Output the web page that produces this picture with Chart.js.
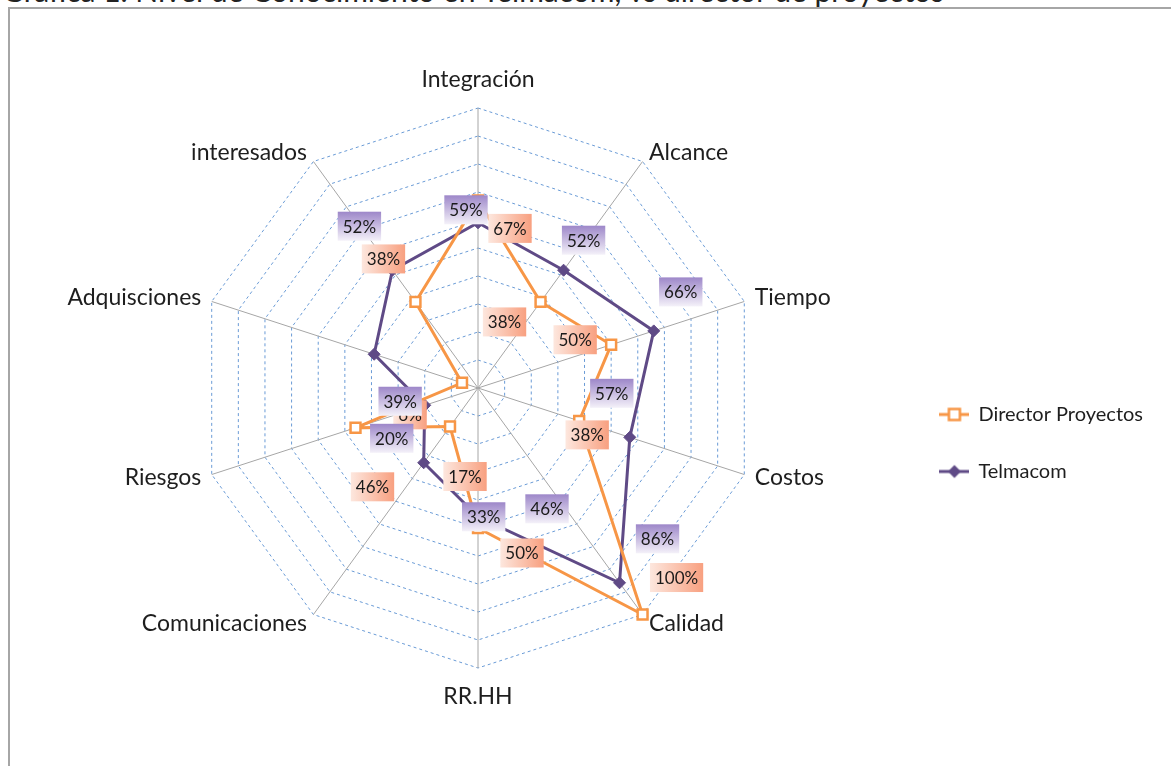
<!DOCTYPE html>
<html>
<head>
<meta charset="utf-8">
<script src="https://cdn.jsdelivr.net/npm/chart.js@4.4.1/dist/chart.umd.min.js"></script>
<style>
  html, body { margin: 0; padding: 0; background: #fff; overflow: hidden; }
  #wrap { position: relative; width: 1171px; height: 766px; overflow: hidden; }
  #title { position: absolute; left: 2px; top: -25px; font: 30px Lato; line-height: 30px; white-space: nowrap; color: #222; }
  #frame { position: absolute; left: 8px; top: 7px; width: 1300px; height: 900px; border-left: 2px solid #a6a6a6; border-top: 2px solid #a6a6a6; }
  canvas { position: absolute; left: 0; top: 0; }
</style>
</head>
<body>
<div id="wrap">
  <div id="title">Gráfica 1. Nivel de Conocimiento en Telmacom, vs director de proyectos</div>
  <div id="frame"></div>
  <canvas id="myChart" width="1171" height="766"></canvas>
</div>
<script>
// data (percent)
const categories = ["Integración", "Alcance", "Tiempo", "Costos", "Calidad", "RR.HH", "Comunicaciones", "Riesgos", "Adquisciones", "interesados"];
const seriesNames = ["Director Proyectos", "Telmacom"];
const directorValues = [67, 38, 50, 38, 100, 50, 17, 46, 6, 38];
const telmacomValues = [59, 52, 66, 57, 86, 46, 33, 20, 39, 52];

const ORANGE = "#f79646";
const PURPLE = "#5f4a86";

// where the radar sits in the frame
const CX = 478, CY = 388, RADIUS = 280;

// label box offsets from each point (px), like the hand-moved labels in the original
const labelOffsets = [
  [[32, 28], [-36, 20], [-36, -5], [8, 14], [34, -37], [44, 25], [15, 50], [17, 59], [-52, 32], [-32, -43]],
  [[-12, -13], [20, -30], [27, -39], [-18, -44], [38, -44], [69, -8], [60, 54], [-33, 33], [26, 47], [-33, -44]]
];

class FixedRadial extends Chart.RadialLinearScale {
  setCenterPoint() {
    this.xCenter = CX;
    this.yCenter = CY;
    this.drawingArea = RADIUS;
  }
}
FixedRadial.id = "fixedRadial";
Chart.register(FixedRadial);

function legendIcon(color, kind) {
  const c = document.createElement("canvas");
  c.width = 30;
  c.height = 16;
  const g = c.getContext("2d");
  g.strokeStyle = color;
  g.lineWidth = 3;
  g.beginPath();
  g.moveTo(0, 8);
  g.lineTo(30, 8);
  g.stroke();
  if (kind === "square") {
    g.fillStyle = "#fff";
    g.lineWidth = 2.5;
    g.fillRect(9.5, 2.5, 11, 11);
    g.strokeRect(9.5, 2.5, 11, 11);
  } else {
    g.fillStyle = color;
    g.beginPath();
    g.moveTo(15, 1.5);
    g.lineTo(21.5, 8);
    g.lineTo(15, 14.5);
    g.lineTo(8.5, 8);
    g.closePath();
    g.fill();
  }
  return c;
}
const legendIcons = [legendIcon(ORANGE, "square"), legendIcon(PURPLE, "diamond")];

const valueLabels = {
  id: "valueLabels",
  afterDatasetsDraw(chart) {
    const ctx = chart.ctx;
    ctx.save();
    ctx.font = "17px Lato";
    ctx.textAlign = "center";
    ctx.textBaseline = "middle";
    chart.data.datasets.forEach((ds, di) => {
      const meta = chart.getDatasetMeta(di);
      meta.data.forEach((pt, i) => {
        const [dx, dy] = labelOffsets[di][i];
        const text = ds.data[i] + "%";
        const w = ctx.measureText(text).width + 10, h = 29;
        const x = pt.x + dx - w / 2, y = pt.y + dy - h / 2;
        let grad;
        if (di === 0) {
          grad = ctx.createLinearGradient(x, 0, x + w, 0);
          grad.addColorStop(0, "#fde7de");
          grad.addColorStop(1, "#f8a080");
        } else {
          grad = ctx.createLinearGradient(0, y, 0, y + h);
          grad.addColorStop(0, "#9d87c9");
          grad.addColorStop(1, "#f4f1f9");
        }
        ctx.fillStyle = grad;
        ctx.fillRect(x, y, w, h);
        ctx.fillStyle = "#1a1a1a";
        ctx.fillText(text, pt.x + dx, pt.y + dy + 1);
      });
    });
    ctx.restore();
  }
};

new Chart(document.getElementById("myChart").getContext("2d"), {
  type: "radar",
  data: {
    labels: categories,
    datasets: [
      {
        label: seriesNames[0],
        data: directorValues,
        borderColor: ORANGE,
        borderWidth: 3,
        fill: false,
        pointStyle: "rect",
        pointRadius: 7,
        pointBorderWidth: 2.5,
        pointBorderColor: ORANGE,
        pointBackgroundColor: "#fff",
        clip: false
      },
      {
        label: seriesNames[1],
        data: telmacomValues,
        borderColor: PURPLE,
        borderWidth: 3,
        fill: false,
        pointStyle: "rectRot",
        pointRadius: 6,
        pointBorderWidth: 1,
        pointBorderColor: PURPLE,
        pointBackgroundColor: PURPLE,
        clip: false
      }
    ]
  },
  options: {
    responsive: false,
    animation: false,
    devicePixelRatio: 1,
    layout: { padding: { top: 120, right: 18 } },
    scales: {
      r: {
        type: "fixedRadial",
        min: 0,
        max: 100,
        ticks: { display: false, stepSize: 10 },
        grid: { color: "#6a9bd6", lineWidth: 1 },
        border: { dash: [3, 3] },
        angleLines: { color: "#a6a6a6", lineWidth: 1 },
        pointLabels: {
          color: "#1e1e1e",
          font: { family: "Lato", size: 23, lineHeight: 0.01 },
          padding: (ctx) => (ctx.index === 0 || ctx.index === 5 ? 28 : 11)
        }
      }
    },
    plugins: {
      tooltip: { enabled: false },
      legend: {
        position: "right",
        labels: {
          usePointStyle: true,
          pointStyleWidth: 28,
          padding: 37,
          color: "#1e1e1e",
          font: { family: "Lato", size: 20 },
          generateLabels: (chart) =>
            Chart.defaults.plugins.legend.labels.generateLabels(chart).map((item, i) => {
              item.pointStyle = legendIcons[i];
              return item;
            })
        }
      }
    }
  },
  plugins: [valueLabels]
});
</script>
</body>
</html>
